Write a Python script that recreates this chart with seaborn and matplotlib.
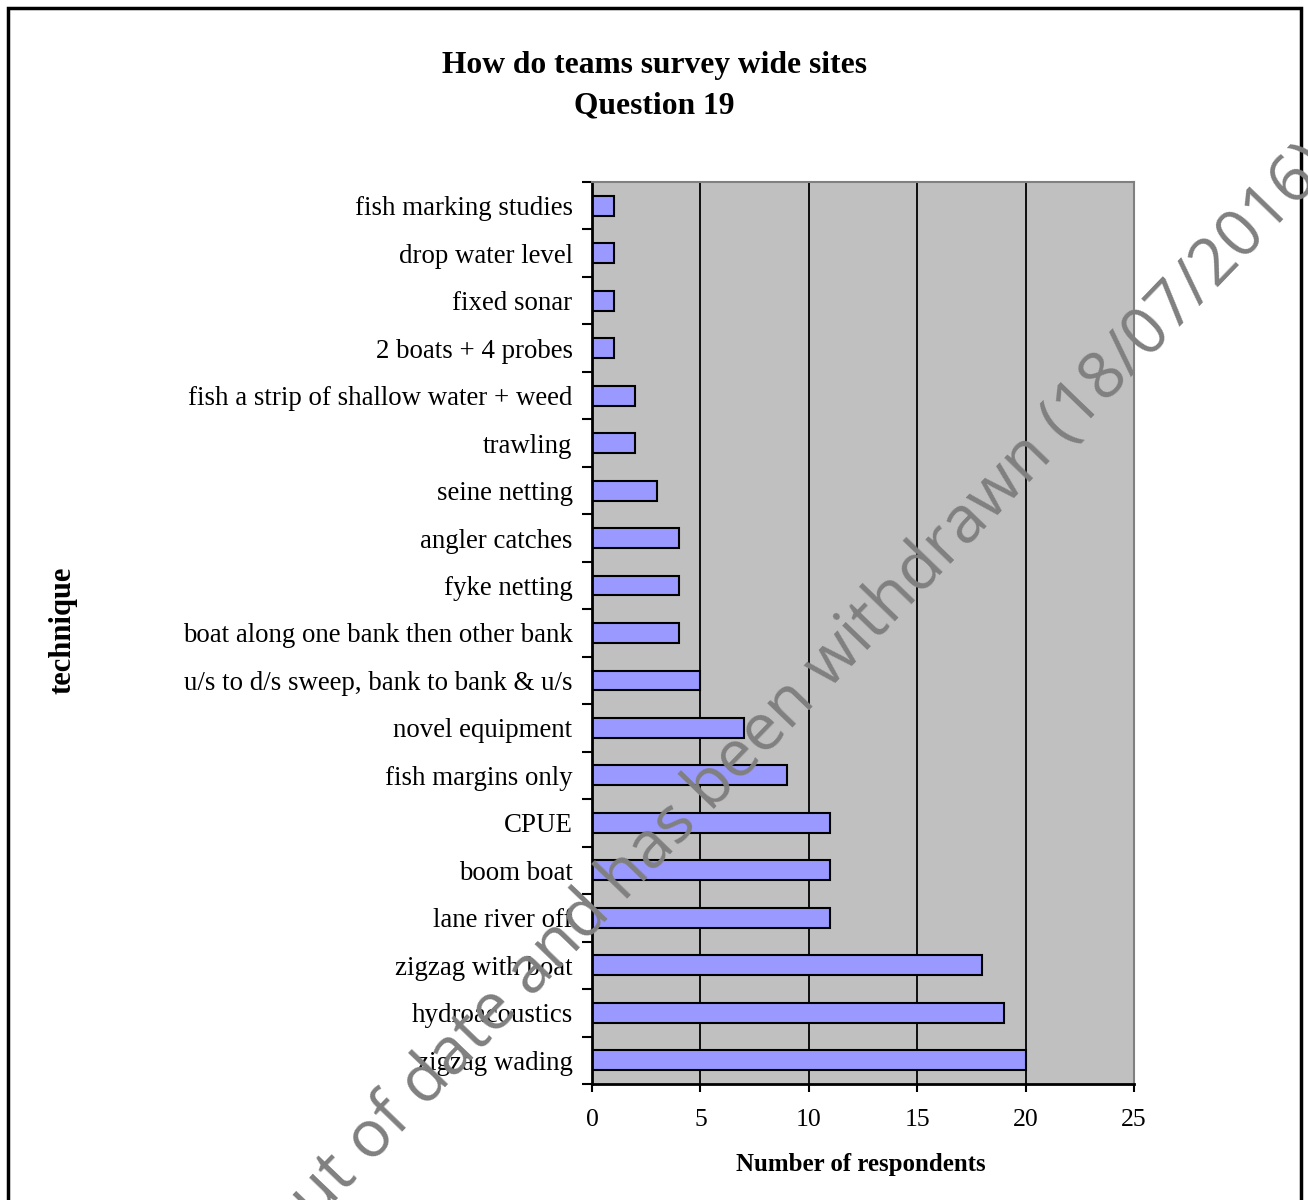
import matplotlib
matplotlib.use("Agg")
import matplotlib.pyplot as plt
import matplotlib.patches as mpatches
import numpy as np
import pandas as pd
import seaborn as sns

techniques = [
    "fish marking studies", "drop water level", "fixed sonar", "2 boats + 4 probes",
    "fish a strip of shallow water + weed", "trawling", "seine netting", "angler catches",
    "fyke netting", "boat along one bank then other bank", "u/s to d/s sweep, bank to bank & u/s",
    "novel equipment", "fish margins only", "CPUE", "boom boat", "lane river off",
    "zigzag with boat", "hydroacoustics", "zigzag wading",
]
respondents = [1, 1, 1, 1, 2, 2, 3, 4, 4, 4, 5, 7, 9, 11, 11, 11, 18, 19, 20]
x_ticks = [0, 5, 10, 15, 20, 25]

df = pd.DataFrame({"technique": techniques, "respondents": respondents})

sns.set_style("white")
plt.rcParams["font.family"] = ["Liberation Serif", "DejaVu Serif"]
plt.rcParams["text.color"] = "black"
plt.rcParams["xtick.color"] = "black"
plt.rcParams["ytick.color"] = "black"
plt.rcParams["axes.labelcolor"] = "black"

fig = plt.figure(figsize=(13.08, 12), dpi=100)
ax = fig.add_axes([592 / 1308, 1 - 1084 / 1200, (1134 - 592) / 1308, (1084 - 182) / 1200])

sns.barplot(data=df, x="respondents", y="technique", orient="h",
            color="#9999FF", edgecolor="black", linewidth=1.5,
            width=0.42, saturation=1, ax=ax)

ax.set_facecolor("#C0C0C0")
ax.set_xlim(0, 25)
ax.set_ylim(len(techniques) - 0.5, -0.5)
ax.set_xticks(x_ticks)
ax.set_xticklabels([str(t) for t in x_ticks], fontsize=18.5)
for xv in x_ticks[1:-1]:
    ax.axvline(xv, color="black", lw=1.3, zorder=0.5)

ax.set_yticks(range(len(techniques)))
ax.set_yticklabels(techniques, fontsize=19.4)
ax.set_yticks(np.arange(-0.5, len(techniques), 1), minor=True)
ax.tick_params(axis="y", which="major", length=0, pad=14)
ax.tick_params(axis="y", which="minor", length=7, width=1.5, color="black", direction="out", left=True)
ax.tick_params(axis="x", length=6, width=1.5, color="black", direction="out", bottom=True, pad=12)

for side in ["top", "right"]:
    ax.spines[side].set_color("#808080")
    ax.spines[side].set_linewidth(1.5)
for side in ["left", "bottom"]:
    ax.spines[side].set_color("black")
    ax.spines[side].set_linewidth(2)

ax.set_xlabel("")
ax.set_ylabel("")

fig.text(0.5, 1 - 65 / 1200, "How do teams survey wide sites", ha="center", va="center",
         fontsize=22.7, fontweight="bold")
fig.text(0.5, 1 - 106 / 1200, "Question 19", ha="center", va="center",
         fontsize=22.7, fontweight="bold")
fig.text(861 / 1308, 1 - 1165 / 1200, "Number of respondents", ha="center", va="center",
         fontsize=17.9, fontweight="bold")
fig.text(63 / 1308, 1 - 630 / 1200, "technique", ha="center", va="center",
         fontsize=22, fontweight="bold", rotation=90)

# page frame
fig.patches.append(mpatches.Rectangle((8 / 1308, -0.05), (1301 - 8) / 1308, 1.05 - 8 / 1200,
                                      transform=fig.transFigure, fill=False,
                                      edgecolor="black", linewidth=2.5))

# watermark
fig.text(613 / 1308, 1 - 890 / 1200,
         "This document is out of date and has been withdrawn (18/07/2016)",
         ha="center", va="center", rotation=46, rotation_mode="anchor",
         fontsize=47, color="#808080", family=["Open Sans", "DejaVu Sans"], zorder=10)

fig.savefig("out.png", dpi=100)
